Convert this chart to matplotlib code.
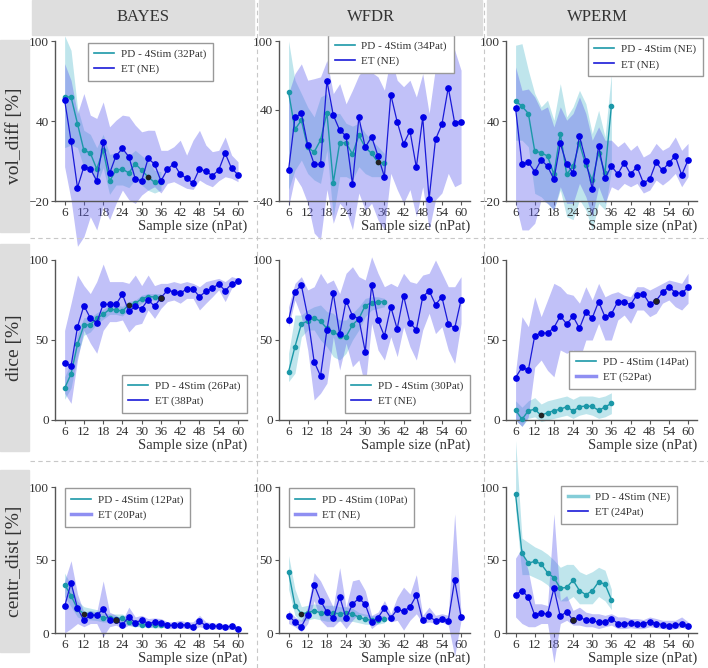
import matplotlib
matplotlib.use("Agg")
import matplotlib.pyplot as plt
from matplotlib.lines import Line2D
from matplotlib.patches import Rectangle

plt.rcParams['font.family'] = ['Liberation Serif', 'DejaVu Serif']

W, H = 708, 668

methods = ['BAYES', 'WFDR', 'WPERM']
metrics = ['vol_diff [%]', 'dice [%]', 'centr_dist [%]']

n_pd = [6, 8, 10, 12, 14, 16, 18, 20, 22, 24, 26, 28, 30, 32, 34, 36]
n_et = [6, 8, 10, 12, 14, 16, 18, 20, 22, 24, 26, 28, 30, 32, 34, 36,
        38, 40, 42, 44, 46, 48, 50, 52, 54, 56, 58, 60]

# ---- vol_diff ----
bayes_vol_pd = [58, 58, 38, 18, 16, 4, 18, -5, 3, 4, 1, 8, 3, -2, -6, -5.5]
bayes_vol_pd_lo = [20, 22, 20, 5, 3, -8, 5, -15, -8, -8, -10, -4, -8, -12, -14, -12]
bayes_vol_pd_hi = [104, 93, 50, 33, 30, 20, 30, 15, 16, 18, 14, 18, 14, 10, 3, 2]
bayes_vol_et = [55.6, 25, -10, 5.7, 4.2, -4.8, 24.2, 0.7, 13.9, 19.4, 13.2, -3.3, -4.8, 11.9,
                7.7, -5, 3.7, 7.9, 0.2, -3, -6.5, 4.2, 2.2, -1, 3.2, 15.9, 4.4, -0.3]
bayes_vol_et_lo = [5.7, -19, -54, -46.7, -31.7, -41.7, -24, -34, -21.8, -11.8, -19, -21.8, -15.5, -11.8,
                   -9.3, -14, -6.8, -5.5, -8, -10.5, -11.3, -4.3, -7.3, -9.3, -4.8, -1.8, -3, -5.5]
bayes_vol_et_hi = [83, 70.5, 45.6, 60.6, 44.4, 41.9, 54.3, 35.6, 40.6, 44.4, 43.6, 36.9, 31.9, 33.1,
                   33, 18, 18, 20.7, 25.6, 14.4, 25.6, 33, 21.9, 17, 18, 28, 14.4, 9.4]

wfdr_vol_pd = [55.2, 22.6, 30.7, 6.9, 2.8, 13.3, 37.1, -24, 10.9, 10.9, 1, 17.4, 6.9, 1.6, -6.2, -7.1]
wfdr_vol_pd_lo = [-30, -13, -4.2, -16, -21.6, -24.6, 4.5, -53.6, -18.7, -18.7, -21.6, -10, -16, -18.7, -18.7, -18.7]
wfdr_vol_pd_hi = [100, 65.7, 54, 42, 33.6, 51, 54, 36.6, 36.6, 28, 25.5, 28, 19.3, 13.3, 7.5, 1.6]
wfdr_vol_et = [-12.9, 33.1, 36.6, 8.9, -7.7, -8, 65.1, 35.1, 22, 16.8, -25.4, 33.1, 6.9, 16.2,
               -0.7, -18.7, 53.1, 29.3, 9.8, 21.4, -10.6, 33.1, -38.2, 13.9, 27, 59.3, 28.4, 29.3]
wfdr_vol_et_lo = [-45, -18.7, -27.5, -42, -68, -74, -30, -59.5, -42, -48, -65, -33, -48, -42,
                  -56.6, -65, -15.8, -30, -42, -30, -53.6, -27.5, -65, -39, -33, -15.8, -27.5, -24.6]
wfdr_vol_et_hi = [54, 71.5, 80, 65.7, 67, 68.6, 83, 54, 62.7, 45, 57, 70, 77, 72.6,
                  68.6, 57, 86, 65.7, 60, 65.7, 51, 71.5, 36.6, 77, 97.7, 108, 92, 74.4]

wperm_vol_pd = [55.1, 51.1, 45.6, 17.4, 16.2, 13.7, 0, 30.6, 0, 6.2, 23.2, 6.9, -4.3, 16.2, 1.2, 51.6]
wperm_vol_pd_lo = [25.6, 25.6, 20.7, -14.3, -16.8, -21.8, -26.7, -11.8, -31.7, -34, -19, -26.7, -41.7, -21.8, -26.7, 3.2]
wperm_vol_pd_hi = [96.8, 98, 78, 60.6, 50.6, 55.6, 40.6, 68, 43, 50.6, 63, 53, 30.6, 48, 28, 75.5]
wperm_vol_et = [49.4, 7.7, 9, 2, 10.7, 6.2, -3.8, 23.2, 7.7, 1.2, 28.6, 10.2, -10.8, 21.2,
                -3, 6.2, 0.2, 8.7, 0.2, 5.7, -6.3, -3.8, 9, 2.9, 8.7, 13.7, -0.5, 10.7]
wperm_vol_et_lo = [-21.8, -41.7, -41.7, -36.7, -19, -21.8, -26.7, -9.3, -21.8, -21.8, -6.8, -16.8, -31.7, -9.3,
                   -21.8, -9.3, -11.8, -6.8, -9.3, -6.8, -14, -11.8, -4.3, -8, -4.3, 0.7, -9.3, -1.8]
wperm_vol_et_hi = [80.5, 63, 64, 58, 48, 50.6, 35.6, 50.6, 40.6, 45.6, 58, 45.6, 25.6, 35.6,
                   25.6, 25.6, 20.7, 24.4, 18, 22, 13, 15.7, 23.2, 18, 20.7, 28, 18, 23.2]

# ---- dice ----
bayes_dice_pd = [19.8, 28.8, 47.3, 59.2, 59.6, 63.5, 66, 69.2, 68.8, 68.1, 71.9, 72.9, 75.8, 77.1, 76.9, 76.5]
bayes_dice_pd_lo = [13, 20, 40, 53, 55, 60, 63, 66, 66, 65, 69, 70, 73, 75, 75, 74]
bayes_dice_pd_hi = [27, 36, 54, 64, 64, 67, 69, 72, 72, 71, 74, 75, 78, 79, 79, 79]
bayes_dice_et = [35.8, 33.75, 58.1, 71.5, 63.75, 60.8, 72.3, 72.3, 72.3, 78.5, 67.9, 71, 69.6, 75.2,
                 71, 76.5, 81, 80.2, 79.2, 81.9, 81.9, 77.1, 80.4, 82.3, 85, 80.8, 85, 86.9]
bayes_dice_et_lo = [16.7, 10.4, 37.5, 56, 48, 41.7, 56, 61.5, 61.5, 62.5, 55, 59.4, 60.4, 68.8,
                    63.5, 69.8, 74, 75, 73, 76, 76, 68.8, 73, 77, 81.3, 74, 82.3, 85.4]
bayes_dice_et_hi = [56, 73, 90.6, 84, 79, 86.5, 97.5, 86.5, 86.5, 86.5, 85.4, 90.6, 84, 90.6,
                    84, 85.4, 85.4, 86.5, 85.4, 86.5, 85.4, 83.3, 86.5, 87.5, 88.5, 86.5, 89.6, 88.5]

wfdr_dice_pd = [30.2, 45.8, 60, 61.9, 63.75, 61.7, 57.3, 55.2, 52.5, 52.1, 59.4, 63.3, 71.5, 73.3, 73.75, 74]
wfdr_dice_pd_lo = [24, 29.2, 52, 56.25, 56.25, 50, 45.8, 39.6, 37.5, 41.7, 50, 56.25, 64.6, 68.75, 69.8, 70.8]
wfdr_dice_pd_hi = [41.7, 65.6, 65.6, 68.75, 70.8, 71.9, 67.7, 66.7, 62.5, 62.5, 66.7, 70.8, 76, 77, 77, 76]
wfdr_dice_et = [62.3, 80.2, 84.2, 64.6, 36.5, 27.5, 56.25, 79.2, 53.5, 74.6, 65.2, 63.3, 42.7, 84.2,
                62.3, 52.5, 70.8, 56.9, 77.7, 60.8, 56.25, 76.9, 80.8, 72.1, 76.9, 60.2, 57.3, 75]
wfdr_dice_et_lo = [58.3, 75, 64.6, 43.75, 12.5, 16.7, 23, 52, 31.25, 48, 33.3, 37.5, 20.8, 60.4,
                   43.75, 37.5, 52, 39.6, 58.3, 45.8, 37.5, 56.25, 66.7, 54, 58.3, 43.75, 35.4, 60.4]
wfdr_dice_et_hi = [70.8, 85.4, 89.6, 81.3, 83.3, 91.7, 85.4, 87.5, 79, 91.7, 95.8, 89.6, 87.5, 102,
                   91.7, 83.3, 85.4, 83.3, 91.7, 86.5, 85.4, 90.6, 91.7, 100, 91.7, 83.3, 83.3, 89.6]

wperm_dice_pd = [6.25, 0.4, 5.8, 6.7, 2.9, 4.6, 5.8, 6.7, 8.3, 5.6, 8.3, 8.75, 8.5, 6, 8.1, 10.4]
wperm_dice_pd_lo = [0, -4, 1, 2, -1, 0, 1, 2, 3, 1, 3, 4, 3, 1, 2, 4]
wperm_dice_pd_hi = [12, 8, 12, 14, 10, 12, 13, 14, 15, 13, 15, 15, 15, 14, 15, 17]
wperm_dice_et = [26.5, 32.9, 31.25, 52.7, 54.4, 54.4, 57.7, 65, 60, 64.8, 57.3, 67.5, 63.75, 74,
                 64.4, 66.25, 74, 73.75, 72.1, 78.3, 78.75, 72.5, 74.6, 79.8, 83.3, 79.6, 79.2, 82.9]
wperm_dice_et_lo = [0, -4, 2, 33, 37.5, 31, 27, 43.75, 41.7, 43.75, 37.5, 50, 50, 60.4,
                    50, 50, 62.5, 65.6, 60.4, 68.75, 68.75, 64.6, 66.7, 73, 75, 70.8, 68.75, 73]
wperm_dice_et_hi = [30, 64.6, 58.3, 77, 64.6, 75, 85.4, 83.3, 79, 78, 73, 83.3, 75, 85.4,
                    77, 79, 80.2, 78, 77, 83.3, 83.3, 81.25, 83.3, 85.4, 87.5, 86.5, 85.4, 91.7]

# ---- centr_dist ----
bayes_cd_pd = [33.2, 25.6, 16.6, 13.2, 13.2, 12.1, 10.5, 10.3, 9.9, 10.1, 7.2, 6.5, 5.8, 5.8, 5.4, 5.4]
bayes_cd_pd_lo = [25, 18, 11, 9, 9, 8.5, 7.5, 7.5, 7, 7, 5, 4.5, 4, 4, 3.5, 3.5]
bayes_cd_pd_hi = [41, 33, 22, 18, 17, 16, 14, 13, 13, 13, 10, 9, 8, 8, 7.5, 7.5]
bayes_cd_et = [18.2, 34.3, 17, 8.7, 12.1, 12.1, 16.4, 8.7, 8.7, 5.8, 11, 7, 9, 6.5,
               7.4, 7, 5.2, 5.4, 5.8, 5.4, 4.3, 8.1, 4.9, 4.9, 4.7, 4.3, 4.5, 2.9]
bayes_cd_et_lo = [0, 3, 6.5, 4.3, 6.5, 6.5, -2.5, 4.3, 5.4, 3, 5.4, 4.3, 5.4, 3.8,
                  4.3, 4.3, 3, 3, 3.6, 3, 2.5, 4.3, 2.9, 2.9, 2.7, 2.5, 2.5, 1.6]
bayes_cd_et_hi = [35.7, 49.5, 26.7, 14.3, 15.5, 14.3, 35.7, 14.3, 12.1, 8.7, 17.7, 11, 12.1, 9.9,
                  10.3, 9.9, 7.6, 7.6, 8.7, 7.6, 7.6, 12.1, 7.6, 7, 6.5, 6, 6, 4.9]

wfdr_cd_pd = [41.7, 18.8, 13.2, 13.9, 15.2, 13.9, 13.5, 13.7, 13.2, 13.7, 13, 10.8, 9.4, 8.7, 9.2, 9.9]
wfdr_cd_pd_lo = [30, 12, 8, 9, 10, 9, 8, 8, 8, 8, 8, 7, 6, 6, 6, 7]
wfdr_cd_pd_hi = [53, 30, 18, 19, 20, 19, 19, 19, 18, 18, 17, 14, 13, 12, 12, 12]
wfdr_cd_et = [11.9, 7.6, 4.3, 12.6, 33.2, 22.2, 14.3, 10.1, 24.9, 10.1, 19.7, 23.8, 19.7, 7.4,
              10.5, 17, 10.3, 16.1, 15, 17.7, 25.8, 8.7, 11.4, 8.3, 9.6, 8.5, 36.1, 11]
wfdr_cd_et_lo = [6.5, 4.3, 0.9, 6.5, 22.2, 8.7, 4.3, 4.3, 8.7, 3, 8.7, 13.2, 11, 3,
                 6.5, 11, 7.6, 8.7, 2, 8.7, 13.2, 6.5, 7.6, 6.5, 7.6, 5.4, -15.9, 8.7]
wfdr_cd_et_hi = [15.5, 11, 8.7, 17.7, 41.3, 35.7, 26.7, 17.7, 44.8, 17.7, 35.7, 36.8, 29, 12.1,
                 14.3, 22.2, 13.2, 24.4, 31.4, 26.7, 39.9, 12.1, 17.7, 12.1, 13.2, 12.1, 81.6, 13.2]

wperm_cd_pd = [95, 54.5, 47.8, 49.1, 47.3, 41.3, 37.9, 30.7, 31.2, 36.1, 29.1, 26.2, 28.9, 35, 33.4, 22.9]
wperm_cd_pd_lo = [85, 40, 40, 38, 36, 33, 28, 22, 22, 25, 20, 20, 20, 25, 22, 16]
wperm_cd_pd_hi = [132, 65, 62, 59, 57, 54, 50, 45, 47, 47, 42, 40, 42, 45, 43, 30]
wperm_cd_et = [26.2, 29.1, 24.4, 12.1, 13.9, 12.8, 30.7, 11.4, 14.6, 8.7, 11, 8.7, 8.7, 7.2,
               7.8, 9.9, 6.5, 6.5, 6.7, 6.3, 6.3, 7.8, 6.5, 5.8, 4.7, 5.4, 6.3, 4.7]
wperm_cd_et_lo = [11, 6.5, 4.3, 4.3, 6.5, 6.5, -20.4, 6.5, 8.7, 5.4, 5.4, 4.3, 4.3, 3,
                  4.3, 5.4, 3, 3, 3.6, 3, 3, 4.3, 3.6, 3, 2.5, 2.9, 3.8, 2.7]
wperm_cd_et_hi = [51.3, 58, 42.4, 20, 20, 18.8, 81.6, 22.2, 25.6, 15.5, 17.7, 14.3, 13.2, 13.2,
                  12.1, 13.2, 11, 11, 9.9, 9.9, 9.2, 11, 9.9, 8.7, 8.7, 8.7, 11, 7.6]

# legend labels per panel (row-major)
pd_labels = ['PD - 4Stim (32Pat)', 'PD - 4Stim (34Pat)', 'PD - 4Stim (NE)',
             'PD - 4Stim (26Pat)', 'PD - 4Stim (30Pat)', 'PD - 4Stim (14Pat)',
             'PD - 4Stim (12Pat)', 'PD - 4Stim (10Pat)', 'PD - 4Stim (NE)']
et_labels = ['ET (NE)', 'ET (NE)', 'ET (NE)',
             'ET (38Pat)', 'ET (NE)', 'ET (52Pat)',
             'ET (20Pat)', 'ET (NE)', 'ET (24Pat)']
# sample size highlighted with a black dot (None = not shown)
pd_mark = [32, 34, None, 26, None, 14, 12, 10, None]
et_mark = [None, None, None, 36, None, 50, 22, None, 24]

ylims = [(-20, 100), (-40, 100), (-20, 100)]
yticks_row1 = [[-20, 40, 100], [-40, 40, 100], [-20, 40, 100]]

data = [
    [(bayes_vol_pd, bayes_vol_pd_lo, bayes_vol_pd_hi, bayes_vol_et, bayes_vol_et_lo, bayes_vol_et_hi),
     (wfdr_vol_pd, wfdr_vol_pd_lo, wfdr_vol_pd_hi, wfdr_vol_et, wfdr_vol_et_lo, wfdr_vol_et_hi),
     (wperm_vol_pd, wperm_vol_pd_lo, wperm_vol_pd_hi, wperm_vol_et, wperm_vol_et_lo, wperm_vol_et_hi)],
    [(bayes_dice_pd, bayes_dice_pd_lo, bayes_dice_pd_hi, bayes_dice_et, bayes_dice_et_lo, bayes_dice_et_hi),
     (wfdr_dice_pd, wfdr_dice_pd_lo, wfdr_dice_pd_hi, wfdr_dice_et, wfdr_dice_et_lo, wfdr_dice_et_hi),
     (wperm_dice_pd, wperm_dice_pd_lo, wperm_dice_pd_hi, wperm_dice_et, wperm_dice_et_lo, wperm_dice_et_hi)],
    [(bayes_cd_pd, bayes_cd_pd_lo, bayes_cd_pd_hi, bayes_cd_et, bayes_cd_et_lo, bayes_cd_et_hi),
     (wfdr_cd_pd, wfdr_cd_pd_lo, wfdr_cd_pd_hi, wfdr_cd_et, wfdr_cd_et_lo, wfdr_cd_et_hi),
     (wperm_cd_pd, wperm_cd_pd_lo, wperm_cd_pd_hi, wperm_cd_et, wperm_cd_et_lo, wperm_cd_et_hi)],
]

PD_C = '#1b98a8'
ET_C = '#1a1ad8'
PD_FILL = '#5fc0d0'
ET_FILL = '#6464ee'

# layout in pixels
row_px = [(41, 201), (260, 420), (487, 633)]
col_px = [(55, 247), (279, 470), (506, 697)]
leg_pos = [('upper left', (0.17, 0.99)), ('upper left', (0.257, 1.04)), ('upper right', (1.03, 1.02)),
           ('lower right', (1.0, 0.044)), ('lower right', (1.0, 0.044)), ('lower right', (0.99, 0.194)),
           ('upper left', (0.05, 0.99)), ('upper left', (0.05, 0.99)), ('upper left', (0.29, 1.01))]
# which legend handle is drawn thick/pale
thick = [None, None, None, None, None, 'et', 'et', 'et', 'pd']


def fx(x):
    return x / W


def fy(y):
    return 1 - y / H


fig = plt.figure(figsize=(W / 100, H / 100), dpi=100)

# header boxes
for (x0, x1), name in zip([(32, 254), (259, 482), (487, 708)], methods):
    fig.patches.append(Rectangle((fx(x0), fy(35)), fx(x1 - x0), 35 / H,
                                 transform=fig.transFigure, color='#dedede', zorder=0))
    fig.text(fx((x0 + x1) / 2), fy(17), name, ha='center', va='center', fontsize=12, color='#333333')

# row label boxes
for (y0, y1), name in zip([(40, 232), (244, 451), (470, 652)], metrics):
    fig.patches.append(Rectangle((0, fy(y1)), fx(29), (y1 - y0) / H,
                                 transform=fig.transFigure, color='#dedede', zorder=0))
    fig.text(fx(15), fy((y0 + y1) / 2), name, ha='center', va='center', rotation=90,
             fontsize=14, color='#333333')

# dashed separators
for x in [257, 484]:
    fig.add_artist(Line2D([fx(x), fx(x)], [0, 1], transform=fig.transFigure,
                          color='#c8c8c8', lw=0.8, ls=(0, (4, 3))))
for y in [238, 461]:
    fig.add_artist(Line2D([fx(30), 1], [fy(y), fy(y)], transform=fig.transFigure,
                          color='#c8c8c8', lw=0.8, ls=(0, (4, 3))))

for r in range(3):
    for c in range(3):
        k = r * 3 + c
        pd, pd_lo, pd_hi, et, et_lo, et_hi = data[r][c]
        (t, b), (l, rr) = row_px[r], col_px[c]
        ax = fig.add_axes([fx(l), fy(b), fx(rr - l), (b - t) / H])
        ax.set_facecolor('none')

        ax.fill_between(n_pd, pd_lo, pd_hi, color=PD_FILL, alpha=0.4, lw=0, clip_on=False, zorder=1)
        ax.fill_between(n_et, et_lo, et_hi, color=ET_FILL, alpha=0.4, lw=0, clip_on=False, zorder=2)
        ax.plot(n_pd, pd, color=PD_C, lw=1, marker='o', ms=3, zorder=3, clip_on=False)
        ax.plot(n_et, et, color=ET_C, lw=0.9, marker='o', ms=3.8, mfc='#0000e6', mec='#0000e6',
                zorder=4, clip_on=False)
        if pd_mark[k] is not None:
            i = n_pd.index(pd_mark[k])
            ax.plot([n_pd[i]], [pd[i]], 'o', color='#222222', ms=3, zorder=5)
        if et_mark[k] is not None:
            i = n_et.index(et_mark[k])
            ax.plot([n_et[i]], [et[i]], 'o', color='#222222', ms=3.5, zorder=5)

        ax.set_xlim(3, 62.8)
        if r == 0:
            ax.set_ylim(*ylims[c])
            ax.set_yticks(yticks_row1[c])
        else:
            ax.set_ylim(0, 100)
            ax.set_yticks([0, 50, 100])
        ax.set_xticks([6, 12, 18, 24, 30, 36, 42, 48, 54, 60])
        for s in ['top', 'right']:
            ax.spines[s].set_visible(False)
        for s in ['left', 'bottom']:
            ax.spines[s].set_color('#555555')
            ax.spines[s].set_linewidth(1)
        ax.tick_params(axis='both', labelsize=9.5, colors='#555555', labelcolor='#333333',
                       length=3, width=0.8, pad=1.5)
        ax.set_xlabel('Sample size (nPat)', loc='right', fontsize=10.5, color='#333333', labelpad=0)

        pd_h = Line2D([], [], color=PD_C, lw=1.2)
        et_h = Line2D([], [], color=ET_C, lw=1.2)
        if thick[k] == 'et':
            et_h = Line2D([], [], color='#8f8ff2', lw=2.5)
        elif thick[k] == 'pd':
            pd_h = Line2D([], [], color='#84cdd8', lw=2.5)
        loc, anchor = leg_pos[k]
        leg = ax.legend([pd_h, et_h], [pd_labels[k], et_labels[k]], loc=loc, bbox_to_anchor=anchor,
                        fontsize=8, frameon=True, fancybox=False, framealpha=1,
                        edgecolor='#999999', borderpad=0.6, labelspacing=0.45, handlelength=1.8,
                        handletextpad=0.6, borderaxespad=0)
        leg.get_frame().set_linewidth(1)
        leg.set_zorder(10)
        for txt in leg.get_texts():
            txt.set_color('#333333')

fig.savefig('out.png', dpi=100)
